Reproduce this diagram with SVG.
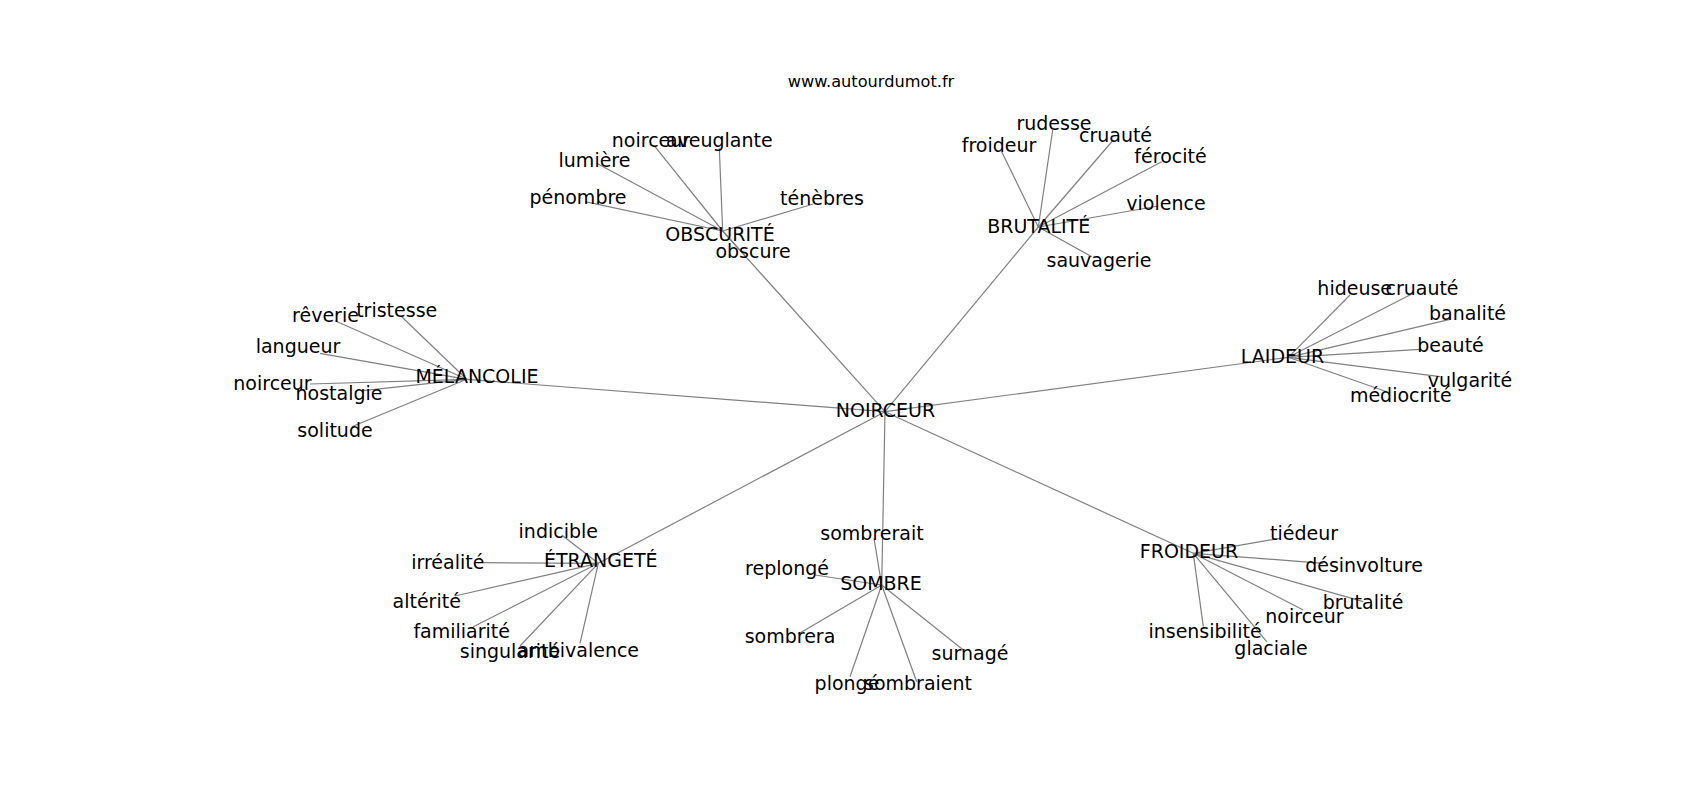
<svg xmlns="http://www.w3.org/2000/svg" width="1700" height="800" viewBox="0 0 1700 800">
<style>
text{font-family:"DejaVu Sans","Liberation Sans",sans-serif;font-size:19px;fill:#000;text-anchor:middle}
.title{font-size:16.2px}
#connectors line{stroke:#808080;stroke-width:1.2}
</style>
<rect width="1700" height="800" fill="#fff"/>
<text class="title" x="871" y="87">www.autourdumot.fr</text>
<g id="connectors">
<line x1="885" y1="411.7" x2="722.7" y2="231"/>
<line x1="885" y1="411.7" x2="1038.3" y2="227"/>
<line x1="885" y1="411.7" x2="1288.3" y2="357.3"/>
<line x1="885" y1="411.7" x2="466.7" y2="379.3"/>
<line x1="885" y1="411.7" x2="598.3" y2="563.3"/>
<line x1="885" y1="411.7" x2="881.7" y2="585"/>
<line x1="885" y1="411.7" x2="1193.3" y2="553.3"/>
<line x1="722.7" y1="231" x2="655" y2="146.7"/>
<line x1="722.7" y1="231" x2="719.3" y2="148.3"/>
<line x1="722.7" y1="231" x2="596.7" y2="163.3"/>
<line x1="722.7" y1="231" x2="585" y2="201.7"/>
<line x1="722.7" y1="231" x2="813.3" y2="204"/>
<line x1="722.7" y1="231" x2="745" y2="255.8"/>
<line x1="1038.3" y1="227" x2="1001.7" y2="151.7"/>
<line x1="1038.3" y1="227" x2="1052.7" y2="130"/>
<line x1="1038.3" y1="227" x2="1113.3" y2="140"/>
<line x1="1038.3" y1="227" x2="1161.7" y2="161.7"/>
<line x1="1038.3" y1="227" x2="1158.3" y2="206"/>
<line x1="1038.3" y1="227" x2="1091.7" y2="256.7"/>
<line x1="1288.3" y1="357.3" x2="1350" y2="295"/>
<line x1="1288.3" y1="357.3" x2="1413.3" y2="293.3"/>
<line x1="1288.3" y1="357.3" x2="1450" y2="319.3"/>
<line x1="1288.3" y1="357.3" x2="1420" y2="349.3"/>
<line x1="1288.3" y1="357.3" x2="1440" y2="376.7"/>
<line x1="1288.3" y1="357.3" x2="1386.7" y2="391.7"/>
<line x1="466.7" y1="379.3" x2="401.7" y2="316.7"/>
<line x1="466.7" y1="379.3" x2="335" y2="320.7"/>
<line x1="466.7" y1="379.3" x2="320" y2="353.3"/>
<line x1="466.7" y1="379.3" x2="310" y2="384"/>
<line x1="466.7" y1="379.3" x2="363.3" y2="390.7"/>
<line x1="466.7" y1="379.3" x2="351.7" y2="426.7"/>
<line x1="598.3" y1="563.3" x2="561.7" y2="535"/>
<line x1="598.3" y1="563.3" x2="483.3" y2="562.7"/>
<line x1="598.3" y1="563.3" x2="455" y2="596"/>
<line x1="598.3" y1="563.3" x2="473.3" y2="626.7"/>
<line x1="598.3" y1="563.3" x2="520" y2="646"/>
<line x1="598.3" y1="563.3" x2="580" y2="643.3"/>
<line x1="881.7" y1="585" x2="874" y2="538.3"/>
<line x1="881.7" y1="585" x2="815" y2="575"/>
<line x1="881.7" y1="585" x2="798.3" y2="634"/>
<line x1="881.7" y1="585" x2="850" y2="676.7"/>
<line x1="881.7" y1="585" x2="916.7" y2="681.7"/>
<line x1="881.7" y1="585" x2="963.3" y2="650"/>
<line x1="1193.3" y1="553.3" x2="1280" y2="538.3"/>
<line x1="1193.3" y1="553.3" x2="1323.3" y2="563.3"/>
<line x1="1193.3" y1="553.3" x2="1363.3" y2="601.7"/>
<line x1="1193.3" y1="553.3" x2="1303.3" y2="610"/>
<line x1="1193.3" y1="553.3" x2="1203.3" y2="626.7"/>
<line x1="1193.3" y1="553.3" x2="1266.7" y2="641.7"/>
</g>
<g id="n-noirceur"><text x="885.5" y="416.7">NOIRCEUR</text></g>
<g id="n-obscurite"><text x="720" y="240.7">OBSCURITÉ</text></g>
<g id="n-obs-noirceur"><text x="651" y="146.7">noirceur</text></g>
<g id="n-aveuglante"><text x="719.3" y="146.7">aveuglante</text></g>
<g id="n-lumiere"><text x="594.5" y="166.7">lumière</text></g>
<g id="n-penombre"><text x="578" y="204">pénombre</text></g>
<g id="n-tenebres"><text x="822" y="205">ténèbres</text></g>
<g id="n-obscure"><text x="753" y="258.3">obscure</text></g>
<g id="n-brutalite"><text x="1038.7" y="233.3">BRUTALITÉ</text></g>
<g id="n-bru-froideur"><text x="999" y="152.3">froideur</text></g>
<g id="n-rudesse"><text x="1054" y="130">rudesse</text></g>
<g id="n-bru-cruaute"><text x="1115.5" y="141.7">cruauté</text></g>
<g id="n-ferocite"><text x="1170.5" y="162.7">férocité</text></g>
<g id="n-violence"><text x="1166" y="210">violence</text></g>
<g id="n-sauvagerie"><text x="1099" y="266.7">sauvagerie</text></g>
<g id="n-laideur"><text x="1282.5" y="363.3">LAIDEUR</text></g>
<g id="n-hideuse"><text x="1354.7" y="295">hideuse</text></g>
<g id="n-lai-cruaute"><text x="1422" y="295">cruauté</text></g>
<g id="n-banalite"><text x="1467.5" y="320">banalité</text></g>
<g id="n-beaute"><text x="1450.5" y="351.7">beauté</text></g>
<g id="n-vulgarite"><text x="1470" y="386.7">vulgarité</text></g>
<g id="n-mediocrite"><text x="1400.8" y="401.7">médiocrité</text></g>
<g id="n-melancolie"><text x="477" y="383.3">MÉLANCOLIE</text></g>
<g id="n-tristesse"><text x="396.7" y="316.7">tristesse</text></g>
<g id="n-reverie"><text x="325.5" y="321.7">rêverie</text></g>
<g id="n-langueur"><text x="298" y="353.3">langueur</text></g>
<g id="n-mel-noirceur"><text x="272.5" y="390">noirceur</text></g>
<g id="n-nostalgie"><text x="339" y="400">nostalgie</text></g>
<g id="n-solitude"><text x="335" y="436.7">solitude</text></g>
<g id="n-etrangete"><text x="600.8" y="566.7">ÉTRANGETÉ</text></g>
<g id="n-indicible"><text x="558.3" y="538.3">indicible</text></g>
<g id="n-irrealite"><text x="447.8" y="569.3">irréalité</text></g>
<g id="n-alterite"><text x="426.7" y="608.3">altérité</text></g>
<g id="n-familiarite"><text x="461.7" y="638.3">familiarité</text></g>
<g id="n-singularite"><text x="510" y="658.3">singularité</text></g>
<g id="n-ambivalence"><text x="578.3" y="656.7">ambivalence</text></g>
<g id="n-sombre"><text x="881" y="590">SOMBRE</text></g>
<g id="n-sombrerait"><text x="872" y="540">sombrerait</text></g>
<g id="n-replonge"><text x="787" y="575">replongé</text></g>
<g id="n-sombrera"><text x="790" y="643.3">sombrera</text></g>
<g id="n-plonge"><text x="847" y="690">plongé</text></g>
<g id="n-sombraient"><text x="918" y="690">sombraient</text></g>
<g id="n-surnage"><text x="970" y="660">surnagé</text></g>
<g id="n-froideur"><text x="1189" y="558.3">FROIDEUR</text></g>
<g id="n-tiedeur"><text x="1304" y="540">tiédeur</text></g>
<g id="n-desinvolture"><text x="1364" y="571.7">désinvolture</text></g>
<g id="n-fro-brutalite"><text x="1363" y="609.3">brutalité</text></g>
<g id="n-fro-noirceur"><text x="1304.5" y="623.3">noirceur</text></g>
<g id="n-insensibilite"><text x="1205" y="638.3">insensibilité</text></g>
<g id="n-glaciale"><text x="1271" y="655">glaciale</text></g>
</svg>
